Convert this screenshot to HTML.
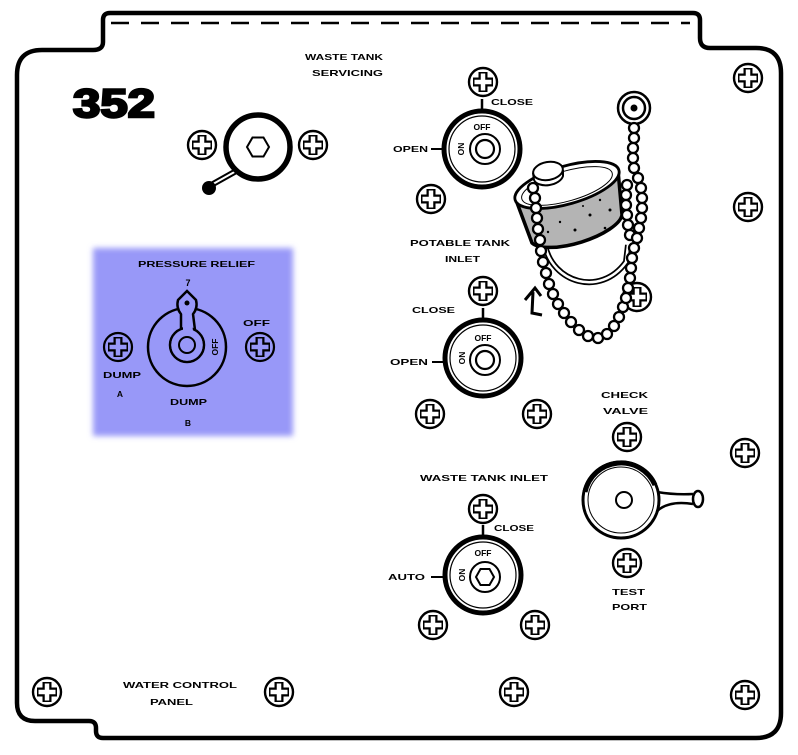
<!DOCTYPE html>
<html><head><meta charset="utf-8"><style>
html,body{margin:0;padding:0;background:#fff;}
svg{display:block;}
text{font-family:"Liberation Sans",sans-serif;font-weight:bold;fill:#000;}
</style></head><body>
<svg width="798" height="755" viewBox="0 0 798 755" xmlns="http://www.w3.org/2000/svg">
<defs>
<g id="sc"><circle r="14" fill="#fff" stroke="#000" stroke-width="2.4"/><path d="M0-10V10M-10 0H10" stroke="#000" stroke-width="9"/><path d="M0-8.5V8.5M-8.5 0H8.5" stroke="#fff" stroke-width="4.5"/></g>
<g id="scb"><circle r="14" fill="none" stroke="#000" stroke-width="2.2"/><path d="M0-10V10M-10 0H10" stroke="#000" stroke-width="9"/><path d="M0-8.5V8.5M-8.5 0H8.5" stroke="#9898f8" stroke-width="4.5"/></g>
<g id="bd"><circle r="5" fill="#fff" stroke="#000" stroke-width="2.3"/></g>
<filter id="bl" x="-10%" y="-10%" width="120%" height="120%"><feGaussianBlur stdDeviation="3"/></filter>
</defs>

<!-- panel outline -->
<path d="M103,42 L103,20 Q103,13 110,13 L693,13 Q700,13 700,20 L700,38 Q700,48 710,48 L756,48 Q781,48 781,73 L781,713 Q781,738 756,738 L103,738 Q96,738 96,731 L96,728 Q96,721 89,721 L35,721 Q17,721 17,703 L17,75 Q17,50 42,50 L93,50 Q103,50 103,42 Z" fill="#fff" stroke="#000" stroke-width="4.5"/>
<line x1="111" y1="23" x2="690" y2="23" stroke="#000" stroke-width="2.5" stroke-dasharray="18 12"/>

<!-- highlight box -->
<rect x="93" y="248" width="200" height="188" fill="#9898f8" filter="url(#bl)"/>

<!-- 352 -->
<text x="73" y="117" font-size="40" stroke="#000" stroke-width="2.4" textLength="82" lengthAdjust="spacingAndGlyphs">352</text>

<!-- top labels -->
<text x="305" y="60" font-size="8.5" textLength="78" lengthAdjust="spacingAndGlyphs">WASTE TANK</text>
<text x="312" y="76" font-size="8.5" textLength="71" lengthAdjust="spacingAndGlyphs">SERVICING</text>

<!-- top-left valve -->
<use href="#sc" x="202" y="145"/>
<use href="#sc" x="313" y="145"/>
<line x1="238" y1="170" x2="213" y2="184" stroke="#000" stroke-width="6"/>
<line x1="238" y1="170" x2="213" y2="184" stroke="#fff" stroke-width="2"/>
<circle cx="209" cy="188" r="7" fill="#000"/>
<circle cx="258" cy="147" r="32" fill="#fff" stroke="#000" stroke-width="5.5"/>
<polygon points="269,147 263.5,156.5 252.5,156.5 247,147 252.5,137.5 263.5,137.5" fill="none" stroke="#000" stroke-width="2"/>

<!-- box contents -->
<text x="138" y="267" font-size="8" textLength="117" lengthAdjust="spacingAndGlyphs">PRESSURE RELIEF</text>
<text x="188" y="286" font-size="9" text-anchor="middle">7</text>
<circle cx="187" cy="347" r="39" fill="none" stroke="#000" stroke-width="2.5"/>
<g stroke="#000" stroke-width="2.5" fill="#9898f8">
<path d="M187,291 L196,300 Q198,308 193,314 L195,330 L181,330 L181,314 Q176,308 178,300 Z"/>
<circle cx="187" cy="345" r="17"/>
</g>
<g fill="#9898f8">
<path d="M187,294 L194,301 Q196,308 191,315 L193,331 L183,331 L183,315 Q178,308 180,301 Z"/>
<circle cx="187" cy="345" r="15.7"/>
</g>
<circle cx="187" cy="345" r="8" fill="none" stroke="#000" stroke-width="2"/>
<circle cx="187" cy="303" r="2.5" fill="#000"/>
<text transform="translate(215,347) rotate(-90)" x="0" y="3" font-size="8.5" text-anchor="middle">OFF</text>
<use href="#scb" x="118" y="347"/>
<use href="#scb" x="260" y="347"/>
<text x="243" y="326" font-size="8.5" textLength="27" lengthAdjust="spacingAndGlyphs">OFF</text>
<text x="103" y="378" font-size="8.5" textLength="38" lengthAdjust="spacingAndGlyphs">DUMP</text>
<text x="120" y="397" font-size="8.5" text-anchor="middle">A</text>
<text x="170" y="405" font-size="8.5" textLength="37" lengthAdjust="spacingAndGlyphs">DUMP</text>
<text x="188" y="426" font-size="8.5" text-anchor="middle">B</text>

<!-- switch 1 -->
<use href="#sc" x="483" y="82"/>
<line x1="482" y1="112" x2="482" y2="99" stroke="#000" stroke-width="2.5"/>
<text x="491" y="105" font-size="8.5" textLength="42" lengthAdjust="spacingAndGlyphs">CLOSE</text>
<circle cx="482" cy="149" r="38" fill="#fff" stroke="#000" stroke-width="5"/>
<circle cx="482" cy="149" r="33" fill="none" stroke="#000" stroke-width="1.2"/>
<text x="482" y="130" font-size="8.5" text-anchor="middle">OFF</text>
<text transform="translate(461,149) rotate(-90)" x="0" y="3" font-size="8.5" text-anchor="middle">ON</text>
<circle cx="485" cy="149" r="15" fill="none" stroke="#000" stroke-width="2"/>
<circle cx="485" cy="149" r="9" fill="none" stroke="#000" stroke-width="2.2"/>
<line x1="443" y1="149" x2="431" y2="149" stroke="#000" stroke-width="2"/>
<text x="393" y="152" font-size="8.5" textLength="35" lengthAdjust="spacingAndGlyphs">OPEN</text>
<use href="#sc" x="431" y="199"/>

<!-- potable tank inlet -->
<text x="410" y="246" font-size="8.5" textLength="100" lengthAdjust="spacingAndGlyphs">POTABLE TANK</text>
<text x="445" y="262" font-size="8.5" textLength="35" lengthAdjust="spacingAndGlyphs">INLET</text>
<use href="#sc" x="483" y="291"/>
<text x="412" y="313" font-size="8.5" textLength="43" lengthAdjust="spacingAndGlyphs">CLOSE</text>
<line x1="483" y1="321" x2="483" y2="308" stroke="#000" stroke-width="2.5"/>
<circle cx="483" cy="358" r="38" fill="#fff" stroke="#000" stroke-width="5"/>
<circle cx="483" cy="358" r="33" fill="none" stroke="#000" stroke-width="1.2"/>
<text x="483" y="341" font-size="8.5" text-anchor="middle">OFF</text>
<text transform="translate(462,358) rotate(-90)" x="0" y="3" font-size="8.5" text-anchor="middle">ON</text>
<circle cx="485" cy="360" r="15" fill="none" stroke="#000" stroke-width="2"/>
<circle cx="485" cy="360" r="9" fill="none" stroke="#000" stroke-width="2.2"/>
<line x1="444" y1="362" x2="432" y2="362" stroke="#000" stroke-width="2"/>
<text x="390" y="365" font-size="8.5" textLength="38" lengthAdjust="spacingAndGlyphs">OPEN</text>
<use href="#sc" x="430" y="414"/>
<use href="#sc" x="537" y="414"/>

<!-- waste tank inlet -->
<text x="420" y="481" font-size="8.5" textLength="128" lengthAdjust="spacingAndGlyphs">WASTE TANK INLET</text>
<use href="#sc" x="483" y="509"/>
<line x1="483" y1="538" x2="483" y2="525" stroke="#000" stroke-width="2.5"/>
<text x="494" y="531" font-size="8.5" textLength="40" lengthAdjust="spacingAndGlyphs">CLOSE</text>
<circle cx="483" cy="575" r="38" fill="#fff" stroke="#000" stroke-width="5"/>
<circle cx="483" cy="575" r="33" fill="none" stroke="#000" stroke-width="1.2"/>
<text x="483" y="556" font-size="8.5" text-anchor="middle">OFF</text>
<text transform="translate(462,575) rotate(-90)" x="0" y="3" font-size="8.5" text-anchor="middle">ON</text>
<circle cx="485" cy="577" r="15" fill="none" stroke="#000" stroke-width="2"/>
<polygon points="494,577 489.5,585 480.5,585 476,577 480.5,569 489.5,569" fill="none" stroke="#000" stroke-width="2"/>
<line x1="444" y1="577" x2="431" y2="577" stroke="#000" stroke-width="2"/>
<text x="388" y="580" font-size="8.5" textLength="37" lengthAdjust="spacingAndGlyphs">AUTO</text>
<use href="#sc" x="433" y="625"/>
<use href="#sc" x="535" y="625"/>

<!-- check valve -->
<text x="601" y="398" font-size="8.5" textLength="47" lengthAdjust="spacingAndGlyphs">CHECK</text>
<text x="603" y="414" font-size="8.5" textLength="45" lengthAdjust="spacingAndGlyphs">VALVE</text>
<use href="#sc" x="627" y="437"/>
<path d="M657,492 Q675,495 693,494 M656,512 Q668,500 693,504" fill="none" stroke="#000" stroke-width="2.5"/>
<ellipse cx="698" cy="499" rx="5" ry="8" fill="#fff" stroke="#000" stroke-width="2.5"/>
<circle cx="621" cy="500" r="38" fill="#fff" stroke="#000" stroke-width="3"/>
<path d="M585,492 A37,37 0 0 1 655,485" fill="none" stroke="#000" stroke-width="5"/>
<circle cx="621" cy="500" r="33" fill="none" stroke="#000" stroke-width="1"/>
<circle cx="624" cy="500" r="8" fill="none" stroke="#000" stroke-width="2"/>
<use href="#sc" x="627" y="563"/>
<text x="612" y="595" font-size="8.5" textLength="33" lengthAdjust="spacingAndGlyphs">TEST</text>
<text x="612" y="610" font-size="8.5" textLength="35" lengthAdjust="spacingAndGlyphs">PORT</text>

<!-- edge screws -->
<use href="#sc" x="748" y="78"/>
<use href="#sc" x="748" y="207"/>
<use href="#sc" x="745" y="453"/>
<use href="#sc" x="745" y="695"/>
<use href="#sc" x="47" y="692"/>
<use href="#sc" x="279" y="692"/>
<use href="#sc" x="514" y="692"/>

<text x="123" y="688" font-size="8" textLength="114" lengthAdjust="spacingAndGlyphs">WATER CONTROL</text>
<text x="150" y="705" font-size="8" textLength="43" lengthAdjust="spacingAndGlyphs">PANEL</text>

<!-- cap & chain -->
<use href="#sc" x="637" y="297"/>
<circle cx="634" cy="108" r="16" fill="#fff" stroke="#000" stroke-width="2.5"/>
<circle cx="634" cy="108" r="11" fill="none" stroke="#000" stroke-width="2.5"/>
<circle cx="634" cy="108" r="3.5" fill="#000"/>
<path d="M545,245 C552,282 600,298 626,262 L628,245" fill="none" stroke="#000" stroke-width="6"/>
<path d="M545,245 C552,282 600,298 626,262 L628,245" fill="none" stroke="#fff" stroke-width="2.5"/>
<path d="M516,200 L532,243 A48,17 -17 0 0 622,215 L618,170 Z" fill="#b4b4b4" stroke="#000" stroke-width="3.5"/>
<g fill="#000">
<circle cx="590" cy="215" r="1.5"/><circle cx="600" cy="200" r="1.2"/><circle cx="575" cy="230" r="1.5"/><circle cx="560" cy="222" r="1.2"/><circle cx="610" cy="210" r="1.5"/><circle cx="548" cy="232" r="1.2"/><circle cx="583" cy="206" r="1"/><circle cx="605" cy="228" r="1.3"/>
</g>
<ellipse cx="567" cy="185" rx="54" ry="19" transform="rotate(-16 567 185)" fill="#fff" stroke="#000" stroke-width="2.8"/>
<ellipse cx="567" cy="186" rx="47" ry="15" transform="rotate(-16 567 186)" fill="none" stroke="#000" stroke-width="1"/>
<path d="M533,173 L534,180 A15,9 -10 0 0 563,176 L563,170" fill="#fff" stroke="#000" stroke-width="2"/>
<ellipse cx="548" cy="171" rx="15" ry="9" transform="rotate(-10 548 171)" fill="#fff" stroke="#000" stroke-width="2"/>
<g>
<use href="#bd" x="634" y="128"/><use href="#bd" x="634" y="138"/><use href="#bd" x="633" y="148"/><use href="#bd" x="633" y="158"/><use href="#bd" x="634" y="168"/>
<use href="#bd" x="627" y="185"/><use href="#bd" x="626" y="195"/><use href="#bd" x="626" y="205"/><use href="#bd" x="627" y="215"/><use href="#bd" x="628" y="225"/><use href="#bd" x="630" y="235"/>
<use href="#bd" x="638" y="178"/><use href="#bd" x="641" y="188"/><use href="#bd" x="642" y="198"/><use href="#bd" x="642" y="208"/><use href="#bd" x="641" y="218"/><use href="#bd" x="639" y="228"/><use href="#bd" x="637" y="238"/>
<use href="#bd" x="634" y="248"/><use href="#bd" x="632" y="258"/><use href="#bd" x="631" y="268"/><use href="#bd" x="630" y="278"/><use href="#bd" x="628" y="288"/>
<use href="#bd" x="533" y="188"/><use href="#bd" x="535" y="198"/><use href="#bd" x="536" y="208"/><use href="#bd" x="537" y="218"/><use href="#bd" x="538" y="229"/><use href="#bd" x="540" y="240"/><use href="#bd" x="541" y="251"/><use href="#bd" x="543" y="262"/><use href="#bd" x="546" y="273"/><use href="#bd" x="549" y="284"/><use href="#bd" x="553" y="294"/><use href="#bd" x="558" y="304"/><use href="#bd" x="564" y="313"/><use href="#bd" x="571" y="322"/><use href="#bd" x="579" y="330"/><use href="#bd" x="588" y="336"/><use href="#bd" x="598" y="338"/><use href="#bd" x="607" y="334"/><use href="#bd" x="614" y="326"/><use href="#bd" x="619" y="317"/><use href="#bd" x="623" y="307"/><use href="#bd" x="626" y="298"/>
</g>
<path d="M525,300 L535,288 L541,296 M533,292 L532,313 L542,315" fill="none" stroke="#000" stroke-width="3"/>
</svg>
</body></html>
